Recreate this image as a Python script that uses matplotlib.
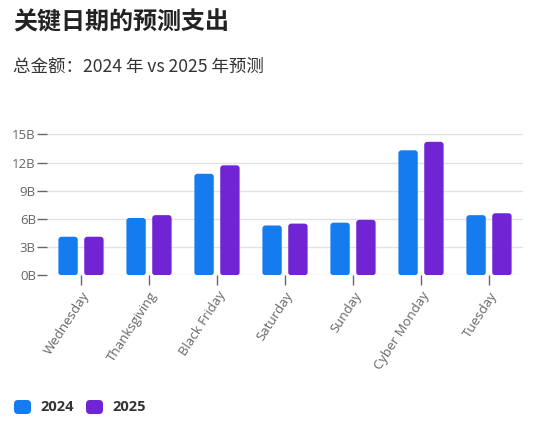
import matplotlib
matplotlib.use("Agg")
import matplotlib.pyplot as plt
from matplotlib.patches import FancyBboxPatch
import numpy as np

categories = ["Wednesday", "Thanksgiving", "Black Friday", "Saturday", "Sunday", "Cyber Monday", "Tuesday"]
values_2024 = [4.1, 6.1, 10.8, 5.3, 5.6, 13.3, 6.4]
values_2025 = [4.1, 6.4, 11.7, 5.5, 5.9, 14.2, 6.6]
series_names = ["2024", "2025"]
yticks = [0, 3, 6, 9, 12, 15]
ytick_labels = ["0B", "3B", "6B", "9B", "12B", "15B"]

title = "关键日期的预测支出"
subtitle = "总金额：2024 年 vs 2025 年预测"

c2024 = "#157CF0"
c2025 = "#7124D4"
fam = ["Open Sans", "Noto Sans CJK SC", "DejaVu Sans"]
cjk = ["Noto Sans CJK SC", "DejaVu Sans"]

W, H = 555, 426
fig = plt.figure(figsize=(W / 100, H / 100), dpi=100)
left, right = 47 / W, 523 / W
bottom, top = (H - 275.3) / H, (H - 134.3) / H
ax = fig.add_axes([left, bottom, right - left, top - bottom])

x = np.arange(len(categories))
bw = 0.285
off = 0.19
ax.set_xlim(-0.5, len(categories) - 0.5)
ax.set_ylim(0, 15)

px_x = (right - left) * W / len(categories)
px_y = (top - bottom) * H / 15
aspect = px_x / px_y

for vals, col, sgn in [(values_2024, c2024, -1), (values_2025, c2025, 1)]:
    bars = ax.bar(x + sgn * off, vals, width=bw, color=col, alpha=0)
    for b in bars:
        p = FancyBboxPatch((b.get_x(), b.get_y()), b.get_width(), b.get_height(),
                           boxstyle="round,pad=0,rounding_size=%f" % (3.0 / px_x),
                           mutation_aspect=aspect, facecolor=col, edgecolor="none",
                           zorder=3)
        ax.add_patch(p)

ax.set_yticks(yticks)
ax.set_yticklabels(ytick_labels, fontfamily=fam, fontsize=9.5, color="#666666")
ax.set_xticks(x)
ax.set_xticklabels(categories, rotation=57, ha="right", va="top", rotation_mode="anchor",
                   fontfamily=fam, fontsize=9.5, color="#666666")
ax.tick_params(axis="y", length=7, width=1, color="#666666", pad=1)
ax.tick_params(axis="x", length=7, width=1, color="#666666", pad=3)
ax.grid(axis="y", color="#e2e2e6", linewidth=1, zorder=0)
ax.set_axisbelow(True)
for s in ax.spines.values():
    s.set_visible(False)

fig.text(13 / W, 1 - 22 / H, title, fontfamily=cjk, fontsize=17.3, fontweight="bold",
         color="#222222", va="center", ha="left")
fig.text(13 / W, 1 - 67 / H, subtitle, fontfamily=cjk, fontsize=12.6,
         color="#333333", va="center", ha="left")

for i, (name, col) in enumerate(zip(series_names, [c2024, c2025])):
    x0 = 14 + i * 72
    sq = FancyBboxPatch((x0 / W, 1 - 414 / H), 17 / W, 14 / H,
                        boxstyle="round,pad=0,rounding_size=%f" % (4 / W),
                        mutation_aspect=W / H, transform=fig.transFigure,
                        facecolor=col, edgecolor="none")
    fig.add_artist(sq)
    fig.text((x0 + 26) / W, 1 - 407 / H, name, fontfamily=fam, fontsize=10.5,
             fontweight="bold", color="#333333", va="center", ha="left")

fig.savefig("out.png", dpi=100)
